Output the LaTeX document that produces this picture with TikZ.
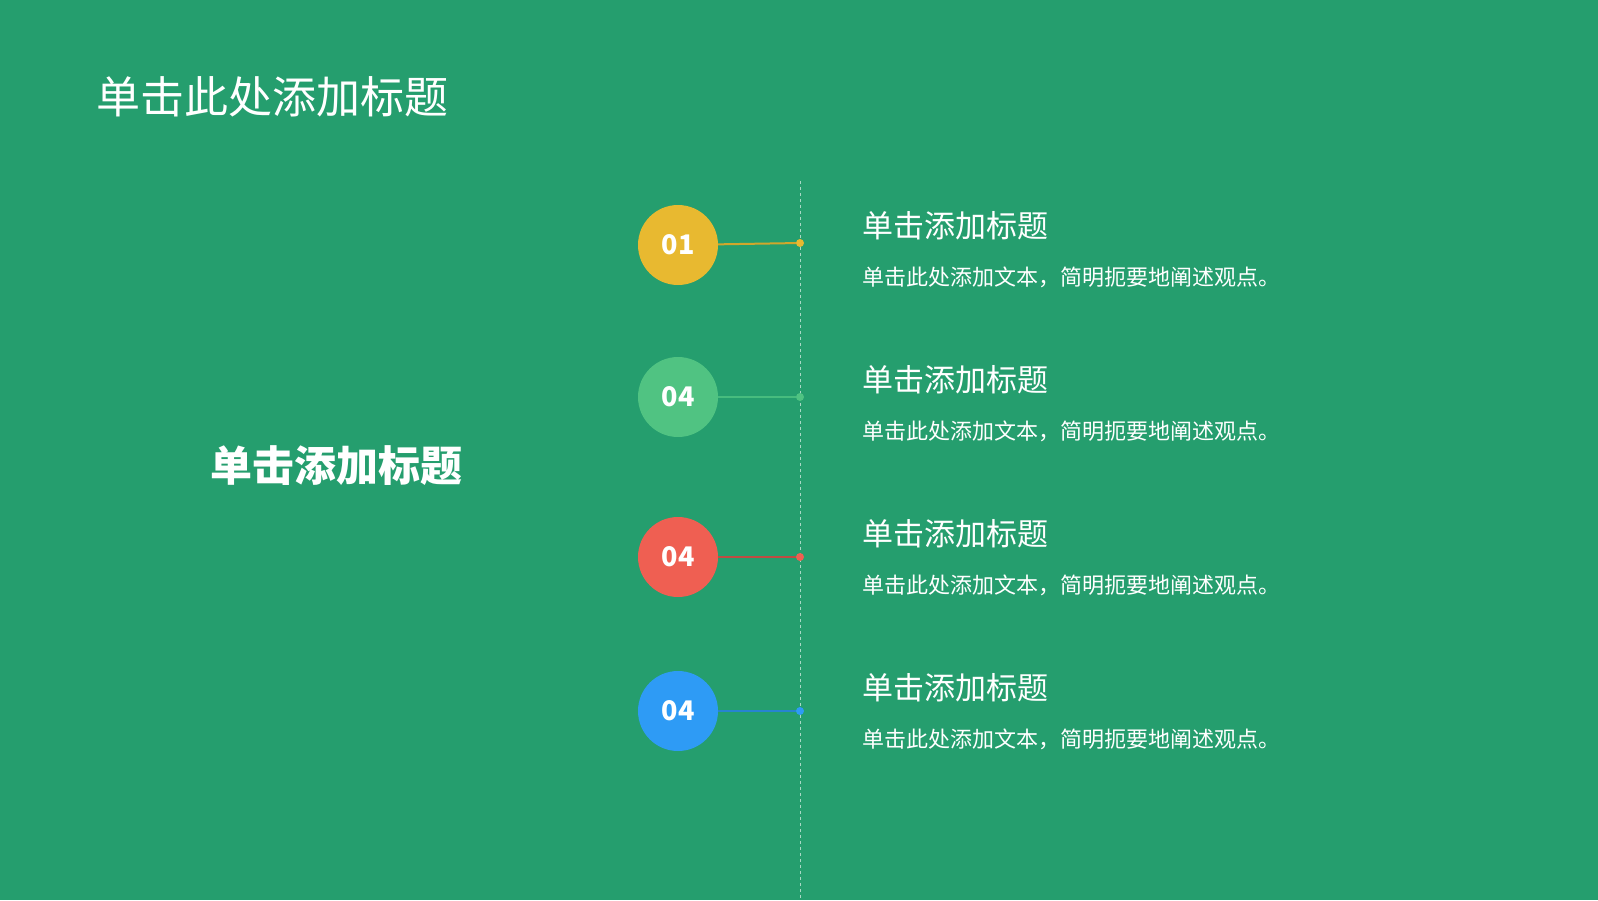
\documentclass[tikz,border=0pt]{standalone}
\usepackage{fontspec}
\setmainfont{Noto Sans CJK SC}
\definecolor{bg}{RGB}{37,158,110}
\definecolor{item1}{RGB}{232,185,48}
\definecolor{item2}{RGB}{80,195,130}
\definecolor{item3}{RGB}{239,95,82}
\definecolor{item4}{RGB}{46,155,245}
\tikzstyle{num}=[circle, minimum size=80pt, inner sep=0pt, text=white, font=\fontsize{27}{27}\selectfont\bfseries]
\tikzstyle{dot}=[circle, minimum size=8pt, inner sep=0pt]
\tikzstyle{head}=[anchor=west, text=white, inner sep=0pt, font=\fontsize{31}{31}\selectfont]
\tikzstyle{desc}=[anchor=west, text=white, inner sep=0pt, font=\fontsize{22}{22}\selectfont]
\begin{document}
\begin{tikzpicture}[x=1pt,y=-1pt]
  \fill[bg] (0,0) rectangle (1598,900);
  \useasboundingbox (0,0) rectangle (1598,900);
  \node[anchor=west, text=white, inner sep=0pt, font=\fontsize{44}{44}\selectfont] (title) at (96,97) {单击此处添加标题};
  \node[text=white, inner sep=0pt, font=\fontsize{42}{42}\selectfont\bfseries] (main) at (336,466) {单击添加标题};
  \coordinate (top) at (800,181);
  \coordinate (bot) at (800,900);
  \draw[white!60!bg, dashed, line width=1pt] (top) -- (bot);

  \node[num, fill=item1] (N1) at (678,245) {01};
  \node[num, fill=item2] (N2) at (678,397) {04};
  \node[num, fill=item3] (N3) at (678,557) {04};
  \node[num, fill=item4] (N4) at (678,711) {04};

  \node[dot, fill=item1] (D1) at (800,243) {};
  \node[dot, fill=item2] (D2) at (800,397) {};
  \node[dot, fill=item3] (D3) at (800,557) {};
  \node[dot, fill=item4] (D4) at (800,711) {};

  \draw[item1!90!black, line width=2pt] (N1) -- (D1);
  \draw[item2!80!bg, line width=2pt] (N2) -- (D2);
  \draw[item3!80!black, line width=2pt] (N3) -- (D3);
  \draw[item4!85!black, line width=2pt] (N4) -- (D4);

  \node[head] (H1) at (862,226) {单击添加标题};
  \node[desc] (T1) at (862,277) {单击此处添加文本，简明扼要地阐述观点。};
  \node[head] (H2) at (862,380) {单击添加标题};
  \node[desc] (T2) at (862,431) {单击此处添加文本，简明扼要地阐述观点。};
  \node[head] (H3) at (862,534) {单击添加标题};
  \node[desc] (T3) at (862,585) {单击此处添加文本，简明扼要地阐述观点。};
  \node[head] (H4) at (862,688) {单击添加标题};
  \node[desc] (T4) at (862,739) {单击此处添加文本，简明扼要地阐述观点。};
\end{tikzpicture}
\end{document}
